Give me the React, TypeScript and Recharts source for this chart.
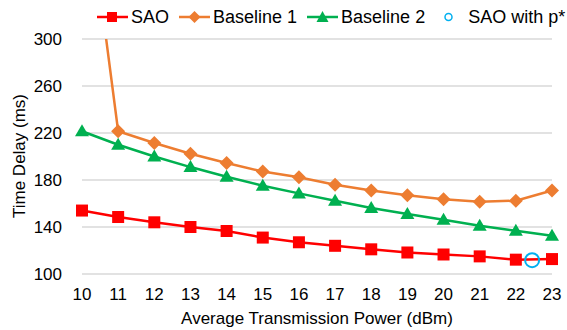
import { ComposedChart, Line, Scatter, XAxis, YAxis, CartesianGrid, Legend } from 'recharts';

const powers = [10, 11, 12, 13, 14, 15, 16, 17, 18, 19, 20, 21, 22, 23];
const sao = [154, 148.5, 144, 140, 136.6, 131, 127, 124, 121, 118.3, 116.6, 115, 112.2, 112.7];
const baseline1 = [458, 221.5, 211.5, 202.4, 194.4, 187.2, 182.3, 176, 171, 167, 163.6, 161.5, 162.4, 171];
const baseline2 = [221.5, 210, 200, 191, 182.8, 175.1, 168.6, 162.4, 156.2, 151, 146.2, 141.1, 136.8, 132.6];
const optimalPower = [22.45];
const optimalDelay = [111.8];

const yTicks = [100, 140, 180, 220, 260, 300];

const RED = '#FF0000';
const ORANGE = '#ED7D31';
const GREEN = '#00B050';
const BLUE = '#00B0F0';

const FONT = '"Liberation Sans", Arial, sans-serif';

const data = powers.map((p, i) => ({
  power: p,
  sao: sao[i],
  baseline1: baseline1[i],
  baseline2: baseline2[i],
}));

const starData = optimalPower.map((p, i) => ({ power: p, delay: optimalDelay[i] }));

const SquareDot = (props: any) => {
  const { cx, cy } = props;
  if (cx == null || cy == null) return null;
  return <rect x={cx - 6} y={cy - 6} width={12} height={12} fill={RED} />;
};

const DiamondDot = (props: any) => {
  const { cx, cy } = props;
  if (cx == null || cy == null) return null;
  return <polygon points={`${cx},${cy - 7} ${cx + 7},${cy} ${cx},${cy + 7} ${cx - 7},${cy}`} fill={ORANGE} />;
};

const TriangleDot = (props: any) => {
  const { cx, cy } = props;
  if (cx == null || cy == null) return null;
  return <polygon points={`${cx},${cy - 7} ${cx + 7},${cy + 5} ${cx - 7},${cy + 5}`} fill={GREEN} />;
};

const CircleDot = (props: any) => {
  const { cx, cy } = props;
  if (cx == null || cy == null) return null;
  return <circle cx={cx} cy={cy} r={7} fill="none" stroke={BLUE} strokeWidth={2} />;
};

const legendItems = [
  { name: 'SAO', color: RED, kind: 'square' },
  { name: 'Baseline 1', color: ORANGE, kind: 'diamond' },
  { name: 'Baseline 2', color: GREEN, kind: 'triangle' },
  { name: 'SAO with p*', color: BLUE, kind: 'circle' },
];

const LegendIcon = ({ kind, color }: { kind: string; color: string }) => (
  <svg width={31} height={16} style={{ display: 'block', flexShrink: 0 }}>
    {kind !== 'circle' && <line x1={0} y1={8} x2={31} y2={8} stroke={color} strokeWidth={2.5} />}
    {kind === 'square' && <rect x={10} y={3} width={10} height={10} fill={color} />}
    {kind === 'diamond' && <polygon points="15.5,2 21.5,8 15.5,14 9.5,8" fill={color} />}
    {kind === 'triangle' && <polygon points="15.5,2 21.5,13 9.5,13" fill={color} />}
    {kind === 'circle' && <circle cx={15.5} cy={8} r={3.5} fill="none" stroke={color} strokeWidth={1.5} />}
  </svg>
);

const renderLegend = () => (
  <div
    style={{
      display: 'flex',
      alignItems: 'center',
      paddingLeft: 97,
      height: 22,
      whiteSpace: 'nowrap',
      fontFamily: FONT,
      fontSize: 18,
      color: '#000',
      lineHeight: '22px',
    }}
  >
    {legendItems.map((item) => (
      <div key={item.name} style={{ display: 'flex', alignItems: 'center', flexShrink: 0, marginRight: item.kind === 'triangle' ? 8 : 10 }}>
        <LegendIcon kind={item.kind} color={item.color} />
        <span style={{ marginLeft: item.kind === 'circle' ? 4 : 3 }}>{item.name}</span>
      </div>
    ))}
  </div>
);

const YTitle = () => (
  <text
    x={19}
    y={156}
    transform="rotate(-90 19 156)"
    textAnchor="middle"
    dominantBaseline="central"
    fontFamily={FONT}
    fontSize={17}
    fill="#000"
  >
    Time Delay (ms)
  </text>
);

export default function App() {
  return (
    <div style={{ position: 'absolute', left: 0, top: 0, background: '#fff' }}>
      <ComposedChart width={567} height={330} data={data} margin={{ top: 17, right: 15, bottom: 0, left: 0 }}>
        <CartesianGrid vertical={false} stroke="#d9d9d9" strokeWidth={1.5} />
        <XAxis
          dataKey="power"
          type="number"
          domain={[10, 23]}
          ticks={powers}
          interval={0}
          axisLine={false}
          tickLine={false}
          tickSize={0}
          tickMargin={14}
          height={56}
          tick={{ fill: '#000', fontSize: 17, fontFamily: FONT }}
          label={{ value: 'Average Transmission Power (dBm)', position: 'insideBottom', offset: 6, fill: '#000', fontSize: 17, fontFamily: FONT }}
        />
        <YAxis
          type="number"
          domain={[100, 300]}
          ticks={yTicks}
          allowDataOverflow
          axisLine={false}
          tickLine={false}
          tickSize={0}
          tickMargin={20}
          width={82}
          tick={{ fill: '#000', fontSize: 17, fontFamily: FONT }}
          label={<YTitle />}
        />
        <Legend verticalAlign="top" content={renderLegend} wrapperStyle={{ top: 6, left: 0, width: 567 }} />
        <Line dataKey="sao" name="SAO" stroke={RED} strokeWidth={2.5} dot={<SquareDot />} activeDot={false} isAnimationActive={false} />
        <Line dataKey="baseline1" name="Baseline 1" stroke={ORANGE} strokeWidth={2.5} dot={<DiamondDot />} activeDot={false} isAnimationActive={false} />
        <Line dataKey="baseline2" name="Baseline 2" stroke={GREEN} strokeWidth={2.5} dot={<TriangleDot />} activeDot={false} isAnimationActive={false} />
        <Scatter data={starData} dataKey="delay" name="SAO with p*" shape={<CircleDot />} isAnimationActive={false} />
      </ComposedChart>
    </div>
  );
}
